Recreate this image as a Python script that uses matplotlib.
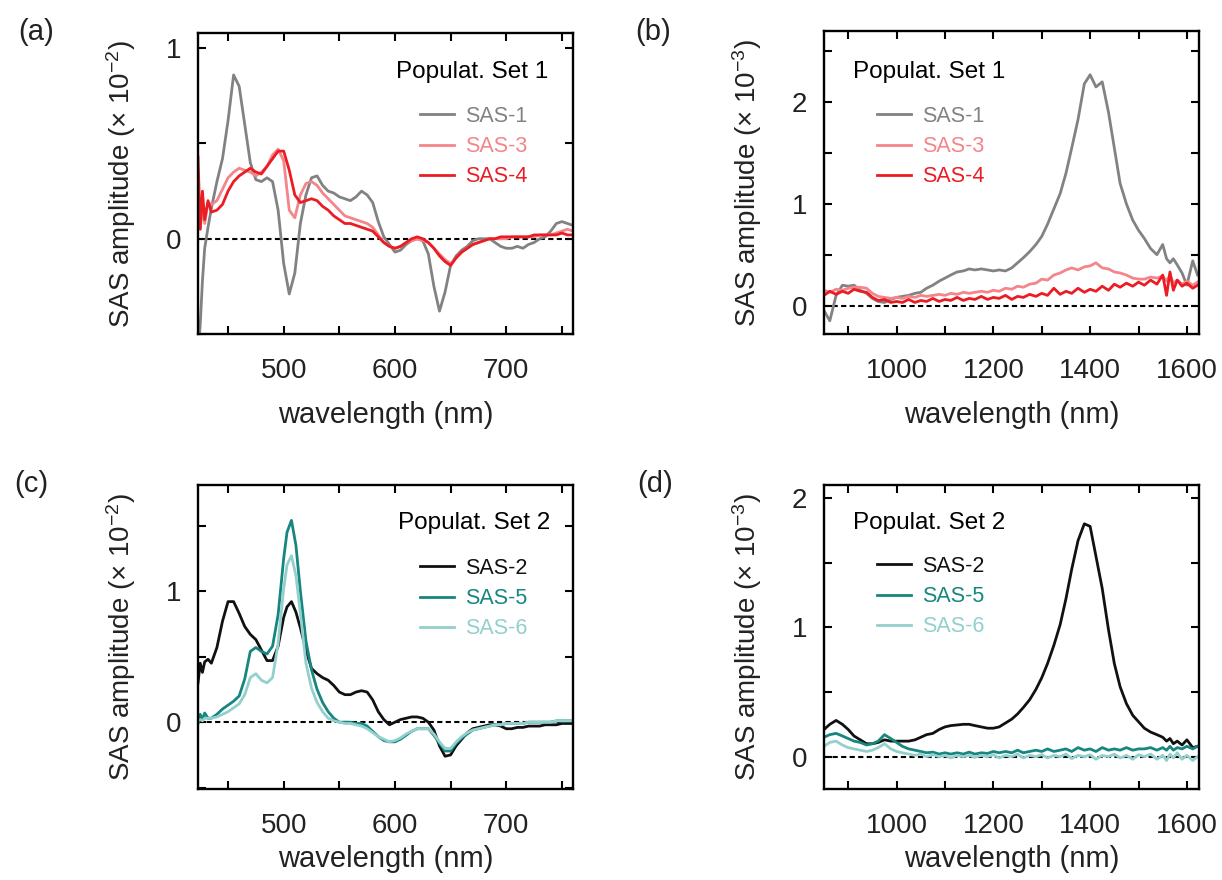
import matplotlib
matplotlib.use('Agg')
import matplotlib.pyplot as plt
from matplotlib.ticker import MultipleLocator, FormatStrFormatter

plt.rcParams['font.family'] = ['Liberation Sans', 'DejaVu Sans']
plt.rcParams['mathtext.fontset'] = 'custom'
plt.rcParams['mathtext.rm'] = 'Liberation Sans'
plt.rcParams['mathtext.it'] = 'Liberation Sans:italic'

# ---- panel (a): visible, population set 1 ----
wl_a = [423, 425, 427, 429, 432, 435, 440, 445, 450, 455, 460, 465, 470, 475, 480, 485, 490, 495,
        500, 505, 510, 515, 520, 525, 530, 535, 540, 545, 550, 555, 560, 565, 570, 575, 580, 585,
        590, 595, 600, 605, 610, 615, 620, 625, 630, 635, 640, 645, 650, 655, 660, 665, 670, 675,
        680, 685, 690, 695, 700, 705, 710, 715, 720, 725, 730, 735, 740, 745, 750, 755, 760]
sas1_a = [-0.6, -0.45, -0.22, -0.05, 0.06, 0.16, 0.3, 0.42, 0.62, 0.86, 0.8, 0.6, 0.4, 0.31, 0.3, 0.32, 0.3, 0.15,
          -0.13, -0.29, -0.18, 0.08, 0.23, 0.32, 0.33, 0.28, 0.25, 0.24, 0.22, 0.21, 0.2, 0.22, 0.25, 0.23, 0.19, 0.09,
          0.01, -0.03, -0.07, -0.06, -0.03, -0.01, 0.0, -0.01, -0.08, -0.25, -0.38, -0.28, -0.14, -0.09, -0.06, -0.04, -0.01, 0.0,
          0.0, 0.0, -0.02, -0.04, -0.05, -0.05, -0.04, -0.05, -0.03, -0.02, 0.0, 0.01, 0.04, 0.08, 0.09, 0.08, 0.07]
sas3_a = [0.2, 0.05, 0.18, 0.08, 0.19, 0.18, 0.2, 0.26, 0.32, 0.35, 0.37, 0.36, 0.35, 0.33, 0.35, 0.38, 0.44, 0.47,
          0.41, 0.15, 0.11, 0.23, 0.29, 0.3, 0.28, 0.24, 0.21, 0.18, 0.15, 0.12, 0.11, 0.1, 0.09, 0.08, 0.06, 0.02,
          -0.02, -0.04, -0.05, -0.04, -0.02, -0.01, 0.0, -0.01, -0.02, -0.05, -0.08, -0.11, -0.13, -0.1, -0.07, -0.05, -0.03, -0.02,
          -0.01, 0.0, 0.0, 0.0, 0.0, 0.01, 0.01, 0.01, 0.01, 0.01, 0.02, 0.02, 0.02, 0.03, 0.04, 0.05, 0.04]
sas4_a = [0.43, 0.05, 0.25, 0.1, 0.2, 0.14, 0.15, 0.18, 0.25, 0.3, 0.33, 0.35, 0.37, 0.35, 0.34, 0.38, 0.42, 0.46,
          0.46, 0.36, 0.23, 0.19, 0.2, 0.21, 0.2, 0.17, 0.15, 0.12, 0.1, 0.08, 0.08, 0.07, 0.06, 0.05, 0.04, 0.01,
          -0.02, -0.04, -0.05, -0.04, -0.02, 0.0, 0.01, 0.0, -0.02, -0.05, -0.09, -0.12, -0.14, -0.1, -0.07, -0.05, -0.03, -0.02,
          -0.01, 0.0, 0.0, 0.01, 0.01, 0.01, 0.01, 0.01, 0.01, 0.02, 0.02, 0.02, 0.02, 0.02, 0.03, 0.02, 0.02]

# ---- panel (b): near-IR, population set 1 ----
wl_b = [850, 862, 875, 888, 900, 912, 925, 938, 950, 962, 975, 988, 1000, 1012, 1025, 1038, 1050, 1062, 1075,
        1088, 1100, 1112, 1125, 1138, 1150, 1162, 1175, 1188, 1200, 1212, 1225, 1238, 1250, 1262, 1275, 1288,
        1300, 1312, 1325, 1338, 1350, 1362, 1375, 1388, 1400, 1412, 1425, 1438, 1450, 1462, 1475, 1488, 1500,
        1512, 1525, 1538, 1550, 1558, 1565, 1572, 1580, 1590, 1600, 1612, 1622]
sas1_b = [-0.05, -0.15, 0.1, 0.2, 0.19, 0.2, 0.15, 0.12, 0.07, 0.04, 0.03, 0.06, 0.08, 0.09, 0.1, 0.12, 0.13, 0.17, 0.2,
          0.24, 0.27, 0.3, 0.33, 0.34, 0.36, 0.35, 0.36, 0.35, 0.34, 0.35, 0.34, 0.37, 0.42, 0.47, 0.53, 0.6,
          0.68, 0.8, 0.95, 1.1, 1.3, 1.55, 1.83, 2.18, 2.27, 2.15, 2.2, 1.9, 1.55, 1.2, 1.0, 0.84, 0.74,
          0.66, 0.56, 0.5, 0.6, 0.46, 0.42, 0.46, 0.4, 0.32, 0.2, 0.44, 0.3]
sas3_b = [0.15, 0.13, 0.16, 0.15, 0.17, 0.18, 0.18, 0.17, 0.12, 0.09, 0.08, 0.07, 0.08, 0.07, 0.09, 0.08, 0.1, 0.09, 0.1,
          0.11, 0.1, 0.12, 0.11, 0.13, 0.12, 0.13, 0.14, 0.13, 0.15, 0.14, 0.17, 0.16, 0.19, 0.18, 0.21, 0.22,
          0.26, 0.25, 0.3, 0.32, 0.35, 0.37, 0.35, 0.38, 0.39, 0.42, 0.37, 0.36, 0.33, 0.32, 0.3, 0.27, 0.26,
          0.26, 0.28, 0.27, 0.29, 0.24, 0.3, 0.22, 0.25, 0.21, 0.24, 0.2, 0.23]
sas4_b = [0.1, 0.14, 0.11, 0.14, 0.12, 0.16, 0.14, 0.13, 0.08, 0.05, 0.06, 0.03, 0.04, 0.03, 0.06, 0.03, 0.05, 0.04, 0.07,
          0.04, 0.06, 0.05, 0.08, 0.05, 0.07, 0.06, 0.09, 0.06, 0.08, 0.07, 0.1, 0.06, 0.09, 0.08, 0.11, 0.09,
          0.12, 0.1, 0.17, 0.11, 0.14, 0.12, 0.17, 0.13, 0.16, 0.14, 0.19, 0.15, 0.21, 0.18, 0.22, 0.19, 0.23,
          0.2, 0.25, 0.21, 0.3, 0.1, 0.33, 0.15, 0.25, 0.19, 0.22, 0.17, 0.2]

# ---- panel (c): visible, population set 2 ----
wl_c = [423, 425, 427, 429, 432, 435, 440, 445, 450, 455, 460, 465, 470, 475, 480, 485, 490, 495,
        500, 503, 507, 511, 515, 520, 525, 530, 535, 540, 545, 550, 555, 560, 565, 570, 575, 580, 585,
        590, 595, 600, 605, 610, 615, 620, 625, 630, 635, 640, 645, 650, 655, 660, 665, 670, 675,
        680, 685, 690, 695, 700, 705, 710, 715, 720, 725, 730, 735, 740, 745, 750, 755, 760]
sas2_c = [0.3, 0.45, 0.38, 0.46, 0.48, 0.45, 0.57, 0.77, 0.92, 0.92, 0.83, 0.73, 0.67, 0.63, 0.55, 0.47, 0.47, 0.58,
          0.8, 0.88, 0.92, 0.84, 0.72, 0.55, 0.41, 0.37, 0.34, 0.32, 0.28, 0.23, 0.21, 0.21, 0.23, 0.24, 0.23, 0.17, 0.08,
          0.02, -0.02, 0.0, 0.02, 0.03, 0.04, 0.04, 0.03, 0.0, -0.06, -0.18, -0.26, -0.25, -0.18, -0.13, -0.08, -0.05, -0.04,
          -0.03, -0.02, -0.02, -0.03, -0.05, -0.05, -0.04, -0.04, -0.03, -0.03, -0.03, -0.02, -0.02, -0.02, -0.01, -0.01, -0.01]
sas5_c = [-0.01, 0.06, 0.02, 0.07, 0.03, 0.03, 0.06, 0.1, 0.13, 0.16, 0.2, 0.33, 0.54, 0.57, 0.54, 0.52, 0.58, 0.82,
          1.25, 1.45, 1.54, 1.35, 1.0, 0.62, 0.4, 0.25, 0.15, 0.08, 0.03, 0.0, 0.0, 0.0, -0.01, -0.01, -0.03, -0.07, -0.11,
          -0.14, -0.15, -0.15, -0.13, -0.1, -0.07, -0.05, -0.05, -0.05, -0.1, -0.16, -0.22, -0.22, -0.16, -0.12, -0.09, -0.06, -0.05,
          -0.04, -0.03, -0.02, -0.02, -0.01, -0.01, -0.01, -0.01, 0.0, 0.0, 0.0, 0.0, 0.0, 0.01, 0.01, 0.01, 0.01]
sas6_c = [0.01, 0.02, 0.01, 0.03, 0.03, 0.03, 0.04, 0.06, 0.08, 0.11, 0.14, 0.21, 0.34, 0.37, 0.32, 0.3, 0.34, 0.6,
          1.02, 1.2, 1.27, 1.12, 0.83, 0.45, 0.26, 0.15, 0.08, 0.03, 0.01, 0.0, -0.01, -0.01, -0.02, -0.03, -0.05, -0.08, -0.11,
          -0.13, -0.15, -0.14, -0.12, -0.09, -0.07, -0.05, -0.05, -0.05, -0.09, -0.15, -0.2, -0.2, -0.15, -0.11, -0.08, -0.06, -0.05,
          -0.04, -0.03, -0.02, -0.02, -0.01, -0.01, -0.01, -0.01, 0.0, 0.0, 0.0, 0.0, 0.0, 0.01, 0.01, 0.01, 0.01]

# ---- panel (d): near-IR, population set 2 ----
wl_d = wl_b
sas2_d = [0.21, 0.25, 0.28, 0.25, 0.21, 0.16, 0.13, 0.1, 0.1, 0.11, 0.13, 0.12, 0.12, 0.12, 0.12, 0.13, 0.15, 0.17, 0.18,
          0.21, 0.23, 0.24, 0.245, 0.25, 0.25, 0.24, 0.23, 0.22, 0.22, 0.23, 0.26, 0.29, 0.33, 0.38, 0.44, 0.52,
          0.61, 0.72, 0.86, 1.02, 1.22, 1.45, 1.67, 1.8, 1.78, 1.55, 1.3, 0.98, 0.72, 0.54, 0.41, 0.32, 0.27,
          0.22, 0.19, 0.17, 0.15, 0.12, 0.14, 0.1, 0.12, 0.09, 0.13, 0.07, 0.08]
sas5_d = [0.15, 0.17, 0.18, 0.16, 0.14, 0.12, 0.11, 0.09, 0.1, 0.12, 0.17, 0.14, 0.11, 0.08, 0.06, 0.05, 0.04, 0.03, 0.035,
          0.02, 0.03, 0.02, 0.03, 0.02, 0.035, 0.02, 0.03, 0.025, 0.04, 0.03, 0.04, 0.03, 0.05, 0.03, 0.04, 0.05,
          0.04, 0.06, 0.04, 0.05, 0.06, 0.04, 0.07, 0.05, 0.06, 0.04, 0.07, 0.05, 0.06, 0.05, 0.07, 0.05, 0.06,
          0.06, 0.07, 0.05, 0.07, 0.05, 0.08, 0.05, 0.07, 0.06, 0.08, 0.06, 0.08]
sas6_d = [0.08, 0.11, 0.12, 0.09, 0.07, 0.06, 0.05, 0.04, 0.05, 0.07, 0.1, 0.06, 0.04, 0.03, 0.02, 0.01, 0.02, 0.0, 0.015,
          0.0, 0.01, -0.01, 0.01, 0.0, 0.01, -0.005, 0.01, 0.0, 0.015, -0.01, 0.01, 0.0, 0.02, -0.01, 0.01, 0.0,
          0.015, -0.01, 0.01, 0.0, 0.02, -0.015, 0.01, 0.0, 0.015, -0.02, 0.01, 0.0, 0.02, -0.01, 0.01, -0.02, 0.015,
          0.0, 0.02, -0.02, 0.01, -0.03, 0.02, -0.01, 0.03, -0.02, 0.01, -0.03, 0.0]

c_gray = '#828282'
c_pink = '#f4858a'
c_red = '#ec1c24'
c_black = '#111111'
c_teal = '#16867f'
c_lteal = '#93d0cd'

W, H = 1222, 880
fig = plt.figure(figsize=(W / 100, H / 100), dpi=100)


def px_axes(l, t, r, b):
    return fig.add_axes([l / W, 1 - b / H, (r - l) / W, (b - t) / H])


def style(ax, xlim, ylim, xmaj, xmin, ylab, xlab_y):
    ax.set_xlim(*xlim)
    ax.set_ylim(*ylim)
    ax.xaxis.set_major_locator(MultipleLocator(xmaj))
    ax.xaxis.set_minor_locator(MultipleLocator(xmin))
    ax.yaxis.set_major_locator(MultipleLocator(1))
    ax.yaxis.set_minor_locator(MultipleLocator(0.5))
    ax.xaxis.set_major_formatter(FormatStrFormatter('%d'))
    ax.yaxis.set_major_formatter(FormatStrFormatter('%d'))
    ax.tick_params(which='both', direction='in', top=True, right=True, length=5.5, width=1.5, color='black')
    ax.tick_params(axis='x', which='major', labelsize=20, pad=17, labelcolor='#222222')
    ax.tick_params(axis='y', which='major', labelsize=20, pad=12, labelcolor='#222222')
    for s in ax.spines.values():
        s.set_linewidth(1.7)
    ax.axhline(0, color='black', lw=1.5, ls=(0, (2.5, 1.6)), zorder=1)
    ax.set_xlabel('wavelength (nm)', fontsize=21, color='#222222')
    ax.set_ylabel('SAS amplitude (× 10$^{' + ylab + '}$)', fontsize=20, color='#222222')
    ax.yaxis.set_label_coords(-0.16, 0.5)
    ax.xaxis.set_label_coords(0.5, xlab_y)


def legend(ax, lines, labels, x, y):
    leg = ax.legend(lines, labels, loc='upper left', bbox_to_anchor=(x / W, 1 - y / H),
                    bbox_transform=fig.transFigure, frameon=False, fontsize=15.5,
                    handlelength=1.6, handletextpad=0.5, labelspacing=0.42,
                    borderpad=0, borderaxespad=0, labelcolor='linecolor')
    return leg


lw = 2.0

# (a)
ax = px_axes(198, 33, 573, 334)
style(ax, (423, 760), (-0.5, 1.08), 100, 50, '-2', -0.222)
l1, = ax.plot(wl_a, sas1_a, color=c_gray, lw=lw)
l3, = ax.plot(wl_a, sas3_a, color=c_pink, lw=lw)
l4, = ax.plot(wl_a, sas4_a, color=c_red, lw=lw)
legend(ax, [l1, l3, l4], ['SAS-1', 'SAS-3', 'SAS-4'], 420, 106)
fig.text(548 / W, 1 - 72 / H, 'Populat. Set 1', ha='right', va='center', fontsize=17.5)

# (b)
ax = px_axes(824, 31, 1199, 334)
style(ax, (850, 1625), (-0.28, 2.7), 200, 100, '-3', -0.222)
l1, = ax.plot(wl_b, sas1_b, color=c_gray, lw=lw)
l3, = ax.plot(wl_b, sas3_b, color=c_pink, lw=lw)
l4, = ax.plot(wl_b, sas4_b, color=c_red, lw=lw)
legend(ax, [l1, l3, l4], ['SAS-1', 'SAS-3', 'SAS-4'], 877, 106)
fig.text(853 / W, 1 - 72 / H, 'Populat. Set 1', ha='left', va='center', fontsize=17.5)

# (c)
ax = px_axes(198, 485, 573, 789)
style(ax, (423, 760), (-0.51, 1.81), 100, 50, '-2', -0.185)
l2, = ax.plot(wl_c, sas2_c, color=c_black, lw=lw)
l5, = ax.plot(wl_c, sas5_c, color=c_teal, lw=lw)
l6, = ax.plot(wl_c, sas6_c, color=c_lteal, lw=lw)
legend(ax, [l2, l5, l6], ['SAS-2', 'SAS-5', 'SAS-6'], 420, 558)
fig.text(550 / W, 1 - 523 / H, 'Populat. Set 2', ha='right', va='center', fontsize=17.5)

# (d)
ax = px_axes(824, 485, 1199, 789)
style(ax, (850, 1625), (-0.25, 2.1), 200, 100, '-3', -0.185)
l2, = ax.plot(wl_d, sas2_d, color=c_black, lw=lw)
l5, = ax.plot(wl_d, sas5_d, color=c_teal, lw=lw)
l6, = ax.plot(wl_d, sas6_d, color=c_lteal, lw=lw)
legend(ax, [l2, l5, l6], ['SAS-2', 'SAS-5', 'SAS-6'], 877, 556)
fig.text(853 / W, 1 - 523 / H, 'Populat. Set 2', ha='left', va='center', fontsize=17.5)

# panel letters
for lab, x, y in [('(a)', 18, 18), ('(b)', 635, 18), ('(c)', 14, 470), ('(d)', 637, 470)]:
    fig.text(x / W, 1 - y / H, lab, ha='left', va='top', fontsize=21, color='#222222')

fig.savefig('out.png', dpi=100)
